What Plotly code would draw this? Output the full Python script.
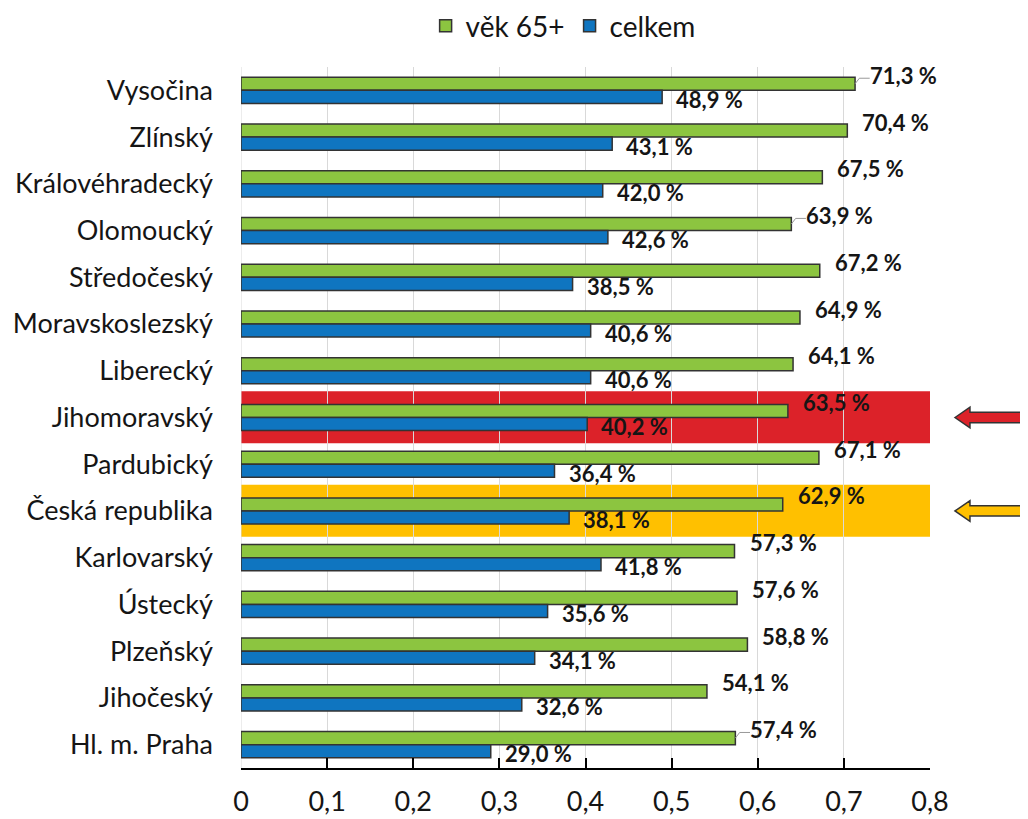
import plotly.graph_objects as go

regions = ["Vysočina", "Zlínský", "Královéhradecký", "Olomoucký", "Středočeský",
           "Moravskoslezský", "Liberecký", "Jihomoravský", "Pardubický", "Česká republika",
           "Karlovarský", "Ústecký", "Plzeňský", "Jihočeský", "Hl. m. Praha"]
age65 = [0.713, 0.704, 0.675, 0.639, 0.672, 0.649, 0.641, 0.635, 0.671, 0.629,
         0.573, 0.576, 0.588, 0.541, 0.574]
total = [0.489, 0.431, 0.420, 0.426, 0.385, 0.406, 0.406, 0.402, 0.364, 0.381,
         0.418, 0.356, 0.341, 0.326, 0.290]
x_ticks = [0, 0.1, 0.2, 0.3, 0.4, 0.5, 0.6, 0.7, 0.8]
highlight = {"Jihomoravský": "#dc2229", "Česká republika": "#ffc000"}

GREEN = "#8cc540"
BLUE = "#0f75c0"
OUTLINE = "#333333"
FONT = "Lato"
TXT = "#151515"

pos = list(range(len(regions)))
n = len(regions)

fig = go.Figure()
fig.add_trace(go.Bar(y=pos, x=age65, orientation="h", name="věk 65+",
                     marker=dict(color=GREEN, line=dict(color=OUTLINE, width=1.5))))
fig.add_trace(go.Bar(y=pos, x=total, orientation="h", name="celkem",
                     marker=dict(color=BLUE, line=dict(color=OUTLINE, width=1.5))))

def fmt(v):
    return f"{v*100:.1f}".replace(".", ",") + " %"

for i, (g, b) in enumerate(zip(age65, total)):
    fig.add_annotation(x=g, y=i, text=fmt(g), showarrow=False, xanchor="left",
                       yanchor="middle", xshift=13, yshift=15,
                       font=dict(family=FONT, size=22, color=TXT, weight="bold"))
    fig.add_annotation(x=b, y=i, text=fmt(b), showarrow=False, xanchor="left",
                       yanchor="middle", xshift=12, yshift=-9,
                       font=dict(family=FONT, size=22, color=TXT, weight="bold"))

def ypaper(v):
    # y axis range is [n-0.5, -0.5] (reversed)
    return (n - 0.5 - v) / n

# highlight bands (below gridlines) and arrows
for name, col in highlight.items():
    i = regions.index(name)
    fig.add_shape(type="rect", xref="paper", yref="paper", x0=0, x1=1,
                  y0=ypaper(i + 0.55), y1=ypaper(i - 0.56), fillcolor=col,
                  line=dict(width=0), layer="below")
    tip, back, end = 1.0363, 1.058, 1.2
    hh, sh = 0.22, 0.11
    path = (f"M {tip} {i} L {back} {i-hh} L {back} {i-sh} L {end} {i-sh} "
            f"L {end} {i+sh} L {back} {i+sh} L {back} {i+hh} Z")
    fig.add_shape(type="path", xref="paper", yref="y", path=path,
                  fillcolor=col, line=dict(color=OUTLINE, width=1.5), layer="above")

# small leader lines for some labels
for name in ["Vysočina", "Olomoucký", "Hl. m. Praha"]:
    i = regions.index(name)
    g = age65[i]
    fig.add_shape(type="path", xref="x", yref="y",
                  path=f"M {g} {i-0.14} L {g+0.005} {i-0.26} L {g+0.017} {i-0.26}",
                  line=dict(color="#999999", width=1), layer="above")

fig.update_layout(
    width=1028, height=819,
    barmode="group", bargap=0.44, bargroupgap=0,
    separators=", ",
    plot_bgcolor="rgba(0,0,0,0)", paper_bgcolor="white",
    margin=dict(l=233, r=106, t=59, b=59, autoexpand=False),
    font=dict(family=FONT, color=TXT),
    legend=dict(orientation="h", xref="container", yref="container",
                x=0.54, xanchor="center", y=0.978, yanchor="middle",
                font=dict(family=FONT, size=28, color=TXT),
                itemwidth=30, traceorder="normal"),
    showlegend=True,
)
fig.update_xaxes(range=[0, 0.8], tickvals=x_ticks, showgrid=True,
                 gridcolor="#d9d9d9", gridwidth=1, zeroline=False,
                 showline=True, linecolor="black", linewidth=2,
                 ticks="inside", ticklen=10, tickwidth=2, tickcolor="black",
                 tickfont=dict(family=FONT, size=27, color=TXT),
                 ticklabelstandoff=9, automargin=False)
fig.update_yaxes(range=[n - 0.5, -0.5], tickvals=pos, ticktext=regions,
                 showgrid=False, zeroline=False, showline=False, ticks="",
                 tickfont=dict(family=FONT, size=27, color=TXT),
                 ticklabelstandoff=27, automargin=False)
# left gridline at 0
fig.add_shape(type="line", xref="x", yref="paper", x0=0, x1=0, y0=0, y1=1,
              line=dict(color="#d9d9d9", width=1), layer="below")

fig.write_html("out.html")
